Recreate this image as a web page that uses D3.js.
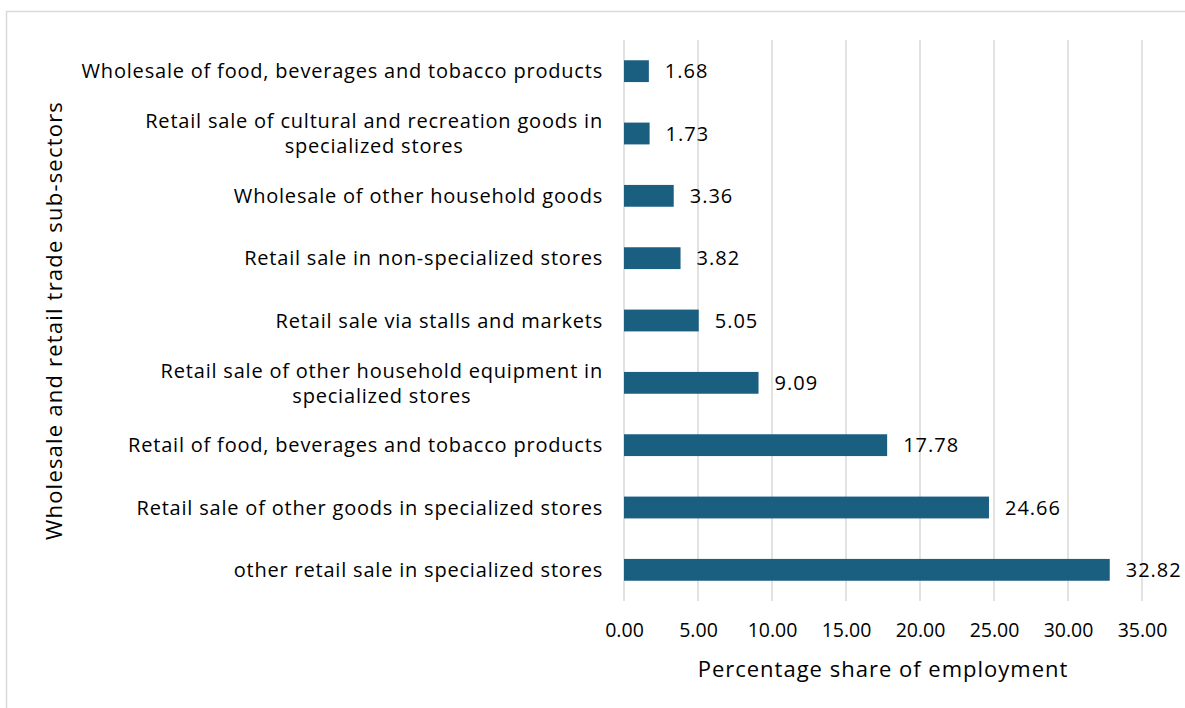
<!DOCTYPE html>
<html>
<head>
<meta charset="utf-8">
<script src="https://cdn.jsdelivr.net/npm/d3@7"></script>
<style>
  html, body { margin: 0; padding: 0; background: #fff; }
  svg text { font-family: "Open Sans", "Noto Sans", sans-serif; fill: #000; }
</style>
</head>
<body>
<svg id="chart" width="1185" height="708"></svg>
<script>
// Sub-sector categories (top to bottom); each entry is the list of wrapped label lines
const categories = [
  ["Wholesale of food, beverages and tobacco products"],
  ["Retail sale of cultural and recreation goods in", "specialized stores"],
  ["Wholesale of other household goods"],
  ["Retail sale in non-specialized stores"],
  ["Retail sale via stalls and markets"],
  ["Retail sale of other household equipment in", "specialized stores"],
  ["Retail of food, beverages and tobacco products"],
  ["Retail sale of other goods in specialized stores"],
  ["other retail sale in specialized stores"]
];
const shares = [1.68, 1.73, 3.36, 3.82, 5.05, 9.09, 17.78, 24.66, 32.82];
const xTicks = [0, 5, 10, 15, 20, 25, 30, 35];
const xTitle = "Percentage share of employment";
const yTitle = "Wholesale and retail trade sub-sectors";

const svg = d3.select("#chart");
const W = 1185, H = 708;
const m = { left: 624, right: 43, top: 40, bottom: 107 };

// chart frame
svg.append("rect")
  .attr("x", 6.5).attr("y", 11.5)
  .attr("width", W).attr("height", H)
  .attr("fill", "none").attr("stroke", "#d9d9d9").attr("stroke-width", 1.5);

const x = d3.scaleLinear().domain([0, 35]).range([m.left, W - m.right]);
const y = d3.scaleBand().domain(d3.range(categories.length))
  .range([m.top, H - m.bottom]).paddingInner(0.65).paddingOuter(0.325);

// vertical gridlines
svg.append("g").selectAll("line").data(xTicks).join("line")
  .attr("x1", d => x(d)).attr("x2", d => x(d))
  .attr("y1", m.top).attr("y2", H - m.bottom)
  .attr("stroke", "#d9d9d9").attr("stroke-width", 1.5);

// x axis tick labels
const xAxis = d3.axisBottom(x).tickValues(xTicks).tickFormat(d3.format(".2f")).tickSize(0).tickPadding(22);
const gx = svg.append("g").attr("transform", `translate(0,${H - m.bottom})`).call(xAxis);
gx.select(".domain").remove();
gx.selectAll("text").attr("font-size", 19.5).attr("fill", "#000")
  .style("font-family", '"Open Sans", sans-serif');

// bars
svg.append("g").selectAll("rect").data(shares).join("rect")
  .attr("x", x(0)).attr("y", (d, i) => y(i))
  .attr("width", d => x(d) - x(0)).attr("height", y.bandwidth())
  .attr("fill", "#1a5e80");

// value labels
svg.append("g").selectAll("text").data(shares).join("text")
  .attr("x", d => x(d) + 16).attr("y", (d, i) => y(i) + y.bandwidth() / 2)
  .attr("dy", "0.36em").attr("font-size", 20).attr("letter-spacing", 1)
  .text(d => d.toFixed(2));

// category labels: block right-aligned to the axis, lines centred within the block
const labelRight = m.left - 21;
const lab = svg.append("g").selectAll("text").data(categories).join("text")
  .attr("text-anchor", "middle").attr("font-size", 20).attr("letter-spacing", 0.8)
  .attr("transform", (d, i) => `translate(0,${y(i) + y.bandwidth() / 2})`);
lab.selectAll("tspan").data(d => d.map((t, k) => ({ t, k, n: d.length }))).join("tspan")
  .attr("y", d => (d.k - (d.n - 1) / 2) * 25)
  .attr("dy", "0.36em")
  .text(d => d.t);
lab.each(function () {
  const spans = d3.select(this).selectAll("tspan");
  let widest = 0;
  spans.each(function () { widest = Math.max(widest, this.getComputedTextLength()); });
  spans.attr("x", labelRight - widest / 2);
});

// axis titles
svg.append("text")
  .attr("x", x(17.5)).attr("y", 677)
  .attr("text-anchor", "middle").attr("font-size", 22).attr("letter-spacing", 1)
  .text(xTitle);
svg.append("text")
  .attr("transform", `translate(62,${(m.top + H - m.bottom) / 2}) rotate(-90)`)
  .attr("text-anchor", "middle").attr("font-size", 22).attr("letter-spacing", 1.2)
  .text(yTitle);
</script>
</body>
</html>
